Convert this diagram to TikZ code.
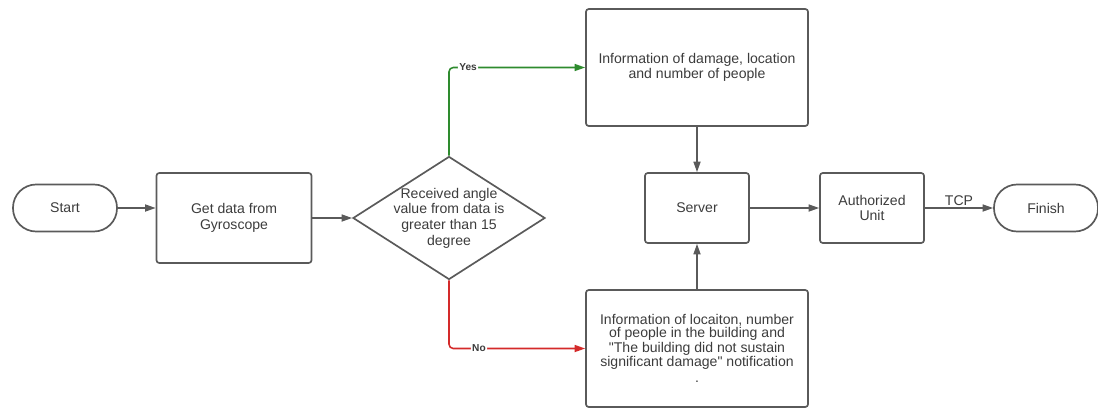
\documentclass[tikz,border=0pt]{standalone}
\usepackage{fontspec}
\setmainfont{Liberation Sans}[Ligatures=TeXOff]
\usepackage{tikz}
\usetikzlibrary{positioning, arrows.meta, calc, shapes.geometric}
\definecolor{flow-line}{HTML}{5A5A5A}
\definecolor{flow-text}{HTML}{3C3C3C}
\definecolor{flow-green}{HTML}{2E8B2E}
\definecolor{flow-red}{HTML}{D42A2A}

\begin{document}
\begin{tikzpicture}[
    x=0.025cm, y=-0.025cm,
    box/.style={draw=flow-line, line width=1.2pt, rounded corners=2pt, align=center,
                text=flow-text, font=\fontsize{10}{11}\selectfont, inner sep=2pt},
    pill/.style={box, rounded corners=0.58cm, minimum width=2.6cm, minimum height=1.175cm},
    decision/.style={diamond, draw=flow-line, line width=1.2pt, aspect=1.56, inner sep=-0.25cm,
                minimum width=4.8cm, minimum height=3.075cm, align=center,
                text=flow-text, font=\fontsize{10}{11.2}\selectfont},
    arr/.style={-{Triangle[length=7.5pt, width=5pt]}, line width=1.1pt, flow-line},
    lbl/.style={font=\bfseries\fontsize{7.2}{8}\selectfont, text=flow-text, fill=white, inner sep=1pt},
]
    \useasboundingbox (0,0) rectangle (1098,408);

    % Nodes
    \node[pill] (start) at (65,208) {Start};
    \node[box, minimum width=3.875cm, minimum height=2.25cm] (gyro) at (234,218) {Get data from\\Gyroscope};
    \node[decision] (dec) at (449,218) {Received angle\\value from data is\\greater than 15\\degree};
    \node[box, minimum width=5.55cm, minimum height=2.925cm] (info1) at (697,67.5)
        {Information of damage, location\\and number of people};
    \node[box, minimum width=2.6cm, minimum height=1.75cm] (server) at (697,208) {Server};
    \node[box, minimum width=5.55cm, minimum height=2.925cm, font=\fontsize{10}{8.4}\selectfont] (info2) at (697,348.5)
        {Information of locaiton, number\\of people in the building and\\"The building did not sustain\\significant damage" notification\\[3pt].};
    \node[box, minimum width=2.6cm, minimum height=1.75cm] (auth) at (872,208) {Authorized\\Unit};
    \node[pill] (finish) at (1046,208) {Finish};

    % Arrows
    \draw[arr] (start) -- (start -| gyro.west);
    \draw[arr] (gyro) -- (dec);
    \draw[arr, flow-green, rounded corners=3pt] (dec.north) |- node[lbl, pos=0.57] {Yes} (info1.west);
    \draw[arr, flow-red, rounded corners=3pt] (dec.south) |- node[lbl, pos=0.61] {No} (info2.west);
    \draw[arr] (info1) -- (server);
    \draw[arr] (info2) -- (server);
    \draw[arr] (server) -- (auth);
    \draw[arr] (auth) -- node[above, inner sep=1pt, text=flow-text, font=\fontsize{10}{11}\selectfont] {TCP} (finish);
\end{tikzpicture}
\end{document}
